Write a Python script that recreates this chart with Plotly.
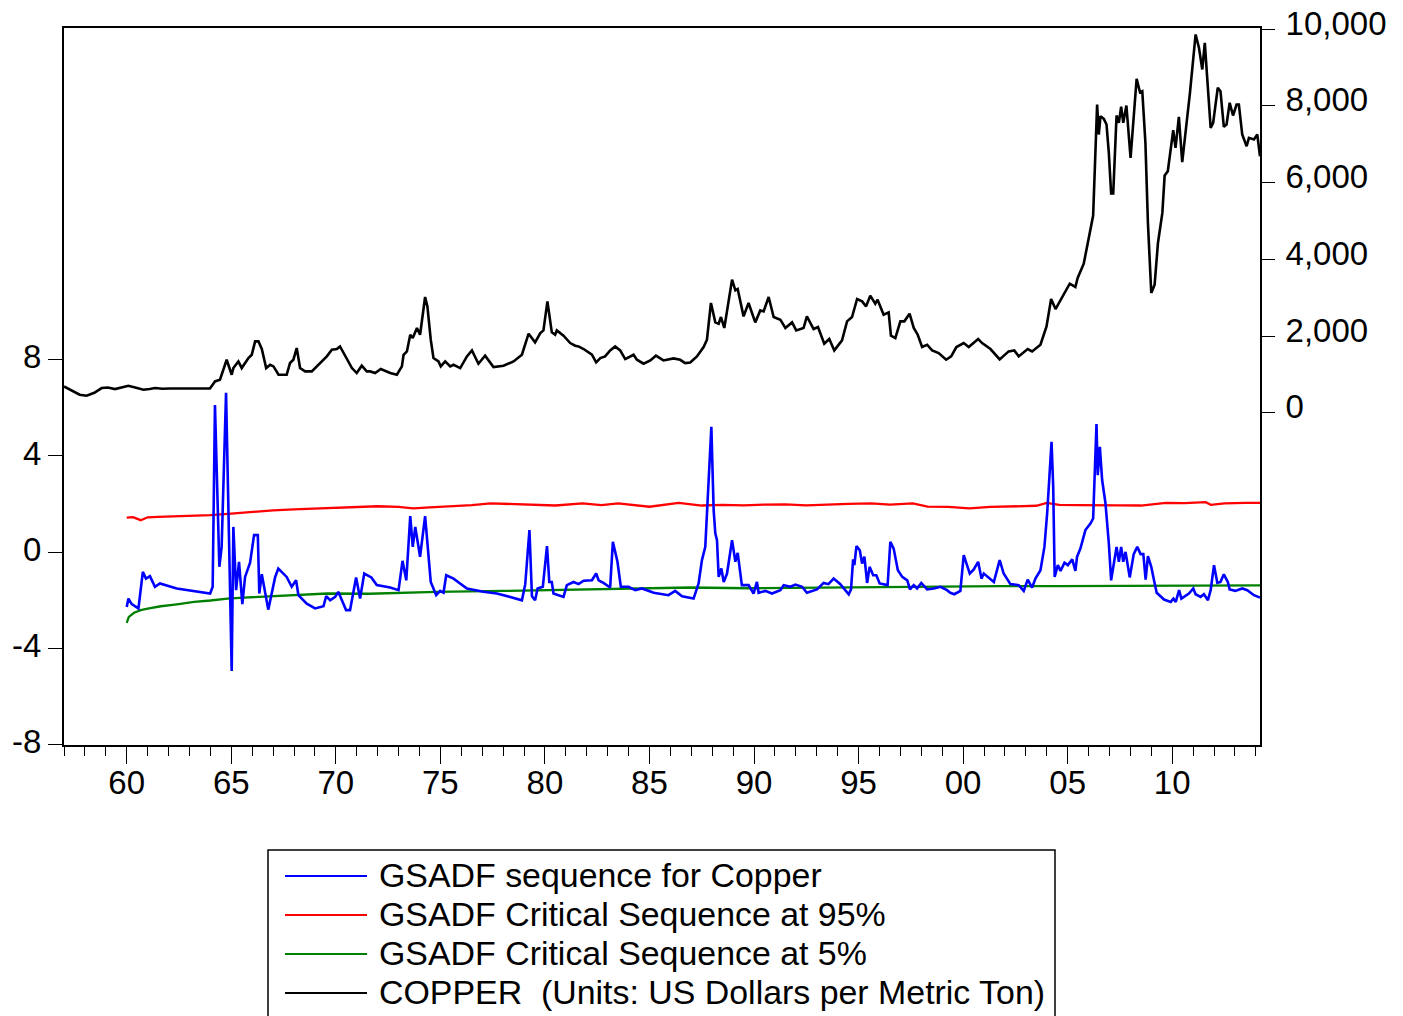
import plotly.graph_objects as go

# ---------------------------------------------------------------------------
# Data (time in decimal years)
# ---------------------------------------------------------------------------
copper_t = [
    1957.00, 1957.35, 1957.75, 1958.08, 1958.45, 1958.80, 1959.10, 1959.44, 1959.75,
    1960.08, 1960.45, 1960.80, 1961.10, 1961.35, 1961.70, 1962.07, 1963.00, 1963.98,
    1964.22, 1964.46, 1964.78, 1965.02, 1965.10, 1965.34, 1965.50, 1965.82, 1965.98,
    1966.14, 1966.30, 1966.46, 1966.67, 1966.86, 1967.02, 1967.26, 1967.65, 1967.81,
    1967.97, 1968.13, 1968.29, 1968.53, 1968.85, 1969.09, 1969.57, 1969.81, 1970.05,
    1970.20, 1970.52, 1970.77, 1971.00, 1971.24, 1971.48, 1971.64, 1971.88, 1972.15,
    1972.60, 1972.92, 1973.16, 1973.24, 1973.40, 1973.56, 1973.68, 1973.88, 1974.03,
    1974.27, 1974.38, 1974.54, 1974.67, 1974.91, 1975.02, 1975.23, 1975.47, 1975.63,
    1975.95, 1976.27, 1976.51, 1976.82, 1977.14, 1977.54, 1978.02, 1978.50, 1978.90,
    1979.22, 1979.53, 1979.78, 1979.93, 1980.12, 1980.33, 1980.49, 1980.57, 1980.89,
    1981.21, 1981.45, 1981.61, 1981.85, 1982.25, 1982.45, 1982.65, 1982.88, 1983.12,
    1983.36, 1983.60, 1983.84, 1984.24, 1984.40, 1984.72, 1985.04, 1985.31, 1985.67,
    1986.15, 1986.47, 1986.71, 1986.95, 1987.27, 1987.59, 1987.75, 1987.94, 1988.15,
    1988.31, 1988.42, 1988.58, 1988.95, 1989.11, 1989.22, 1989.50, 1989.74, 1990.06,
    1990.30, 1990.46, 1990.70, 1990.94, 1991.26, 1991.50, 1991.82, 1992.02, 1992.37,
    1992.53, 1992.85, 1993.06, 1993.36, 1993.60, 1993.84, 1994.21, 1994.45, 1994.69,
    1994.93, 1995.17, 1995.36, 1995.56, 1995.80, 1995.91, 1996.20, 1996.44, 1996.55,
    1996.76, 1997.00, 1997.19, 1997.44, 1997.64, 1997.83, 1998.04, 1998.28, 1998.52,
    1998.83, 1999.19, 1999.43, 1999.68, 2000.03, 2000.27, 2000.72, 2000.91, 2001.31,
    2001.75, 2002.18, 2002.45, 2002.66, 2003.09, 2003.30, 2003.70, 2003.99, 2004.21,
    2004.42, 2004.81, 2005.10, 2005.37, 2005.48, 2005.77, 2006.01, 2006.22, 2006.41,
    2006.49, 2006.57, 2006.73, 2006.86, 2006.97, 2007.08, 2007.18, 2007.34, 2007.45,
    2007.56, 2007.66, 2007.81, 2008.01, 2008.30, 2008.46, 2008.57, 2008.72, 2008.84,
    2009.00, 2009.16, 2009.32, 2009.53, 2009.64, 2009.79, 2010.05, 2010.16, 2010.32,
    2010.48, 2010.85, 2011.12, 2011.28, 2011.44, 2011.56, 2011.84, 2011.96, 2012.18,
    2012.31, 2012.47, 2012.60, 2012.75, 2012.91, 2013.08, 2013.19, 2013.35, 2013.56,
    2013.67, 2013.91, 2014.07, 2014.20,
]
copper_usd = [
    686, 590, 470, 443, 520, 644, 660, 618, 660,
    704, 650, 600, 620, 644, 625, 634, 634, 634,
    816, 860, 1382, 991, 1165, 1338, 1165, 1426, 1512,
    1860, 1860, 1661, 1165, 1252, 1208, 991, 991, 1296,
    1382, 1687, 1165, 1078, 1078, 1208, 1469, 1643, 1661,
    1729, 1426, 1165, 1035, 1226, 1078, 1078, 1035, 1139,
    1035, 991, 1208, 1512, 1599, 2034, 1947, 2209, 2034,
    3017, 2773, 1904, 1426, 1338, 1208, 1338, 1208, 1252,
    1165, 1469, 1625, 1278, 1487, 1191, 1226, 1338, 1512,
    2060, 1834, 2078, 2147, 2903, 2095, 2034, 2147, 2008,
    1817, 1747, 1729, 1661, 1512, 1312, 1426, 1469, 1625,
    1729, 1625, 1400, 1512, 1382, 1278, 1364, 1487, 1364,
    1416, 1380, 1296, 1312, 1469, 1713, 1904, 2860, 2355,
    2321, 2495, 2209, 3469, 3190, 3226, 2512, 2860, 2355,
    2668, 2642, 3017, 2495, 2425, 2209, 2355, 2147, 2209,
    2512, 2182, 2234, 1799, 1922, 1625, 1886, 2382, 2495,
    2964, 2903, 2773, 3051, 2843, 2947, 2556, 2616, 2008,
    1947, 2382, 2382, 2582, 2209, 2034, 1713, 1773, 1625,
    1557, 1382, 1469, 1713, 1817, 1713, 1922, 1817, 1661,
    1390, 1599, 1625, 1469, 1661, 1599, 1773, 2251, 2964,
    2703, 3077, 3364, 3278, 3512, 3886, 4598, 5138, 8033,
    7250, 7728, 7659, 7511, 6773, 5712, 5712, 7746, 7555,
    7973, 7555, 8007, 6643, 8703, 8353, 8380, 7033, 4947,
    3121, 3338, 4425, 5207, 6181, 6294, 7362, 6903, 7712,
    6529, 8338, 9858, 9510, 8945, 9640, 7424, 7555, 8468,
    8380, 7450, 7511, 8077, 7746, 8033, 8033, 7250, 6945,
    7164, 7120, 7250, 6685,
]

gsadf_t = [
    1960.00, 1960.08, 1960.24, 1960.56, 1960.77, 1960.92, 1961.11, 1961.35, 1961.59,
    1962.07, 1962.39, 1963.99, 1964.11, 1964.22, 1964.43, 1964.54, 1964.75, 1965.02,
    1965.10, 1965.23, 1965.37, 1965.53, 1965.66, 1965.90, 1966.09, 1966.27, 1966.34,
    1966.46, 1966.77, 1967.10, 1967.25, 1967.65, 1967.89, 1968.10, 1968.21, 1968.61,
    1969.01, 1969.41, 1969.54, 1969.73, 1969.97, 1970.12, 1970.29, 1970.49, 1970.68,
    1970.97, 1971.16, 1971.36, 1971.70, 1971.96, 1972.60, 1973.00, 1973.19, 1973.37,
    1973.56, 1973.68, 1973.80, 1974.03, 1974.27, 1974.54, 1974.80, 1974.99, 1975.15,
    1975.28, 1975.63, 1976.27, 1977.06, 1977.70, 1978.34, 1978.90, 1979.06, 1979.26,
    1979.38, 1979.53, 1979.65, 1979.90, 1980.10, 1980.21, 1980.33, 1980.41, 1980.65,
    1980.89, 1981.05, 1981.37, 1981.61, 1981.85, 1982.25, 1982.45, 1982.57, 1982.80,
    1983.12, 1983.25, 1983.47, 1983.63, 1984.00, 1984.32, 1984.64, 1985.20, 1985.91,
    1986.23, 1986.56, 1987.11, 1987.35, 1987.51, 1987.67, 1987.83, 1987.96, 1988.07,
    1988.15, 1988.23, 1988.31, 1988.44, 1988.55, 1988.71, 1988.95, 1989.11, 1989.22,
    1989.42, 1989.74, 1989.98, 1990.14, 1990.22, 1990.54, 1990.86, 1991.26, 1991.42,
    1991.74, 1991.98, 1992.30, 1992.53, 1993.01, 1993.33, 1993.56, 1993.81, 1994.13,
    1994.53, 1994.64, 1994.74, 1994.80, 1994.90, 1995.06, 1995.17, 1995.28, 1995.41,
    1995.53, 1995.70, 1995.85, 1996.01, 1996.39, 1996.52, 1996.68, 1996.88, 1997.09,
    1997.33, 1997.46, 1997.64, 1997.80, 1998.00, 1998.28, 1998.60, 1998.92, 1999.23,
    1999.39, 1999.58, 1999.87, 2000.03, 2000.32, 2000.51, 2000.72, 2000.88, 2000.99,
    2001.47, 2001.75, 2001.94, 2002.26, 2002.66, 2002.90, 2003.09, 2003.30, 2003.46,
    2003.70, 2003.89, 2004.02, 2004.23, 2004.31, 2004.38, 2004.53, 2004.66, 2004.85,
    2005.01, 2005.22, 2005.37, 2005.45, 2005.61, 2005.85, 2006.09, 2006.22, 2006.38,
    2006.44, 2006.54, 2006.65, 2006.81, 2006.97, 2007.08, 2007.34, 2007.45, 2007.56,
    2007.66, 2007.77, 2007.97, 2008.16, 2008.33, 2008.49, 2008.62, 2008.73, 2008.84,
    2009.00, 2009.13, 2009.26, 2009.61, 2009.93, 2010.06, 2010.17, 2010.33, 2010.44,
    2010.80, 2011.01, 2011.12, 2011.36, 2011.52, 2011.71, 2011.84, 2012.00, 2012.16,
    2012.31, 2012.47, 2012.66, 2012.75, 2013.02, 2013.35, 2013.59, 2013.91, 2014.20,
]
gsadf = [
    -2.28, -1.93, -2.16, -2.34, -0.82, -1.10, -1.00, -1.44, -1.30,
    -1.44, -1.51, -1.72, -1.44, 6.12, -0.61, 0.22, 6.63, -4.94,
    1.05, -1.58, -0.40, -2.16, -1.03, -0.44, 0.71, 0.71, -1.72,
    -0.92, -2.39, -1.03, -0.68, -1.03, -1.44, -1.17, -1.79, -2.14,
    -2.34, -2.25, -1.83, -2.00, -1.86, -1.65, -2.00, -2.41, -2.41,
    -1.05, -1.93, -0.89, -1.05, -1.37, -1.47, -1.58, -0.36, -1.17,
    1.50, 0.22, 1.05, -0.19, 1.50, -1.24, -1.79, -1.61, -1.69,
    -0.96, -1.10, -1.51, -1.65, -1.72, -1.86, -2.00, -1.33, 0.92,
    -1.83, -2.00, -1.51, -1.44, 0.25, -1.24, -1.24, -1.72, -1.79,
    -1.86, -1.37, -1.24, -1.33, -1.19, -1.17, -0.89, -1.17, -1.28,
    -1.47, 0.43, -0.40, -1.44, -1.44, -1.58, -1.51, -1.69, -1.79,
    -1.61, -1.83, -1.93, -1.30, -0.33, 0.22, 3.13, 5.21, 1.75,
    0.78, 0.50, -1.03, -0.68, -1.24, -0.89, 0.50, -0.40, -0.03,
    -1.37, -1.37, -1.72, -1.24, -1.69, -1.61, -1.72, -1.58, -1.37,
    -1.44, -1.35, -1.44, -1.69, -1.55, -1.28, -1.33, -1.10, -1.33,
    -1.75, -1.55, -0.30, -0.54, 0.25, 0.08, -0.47, -0.19, -1.28,
    -0.61, -0.96, -0.96, -1.30, -1.37, 0.43, 0.15, -0.75, -1.03,
    -1.17, -1.55, -1.37, -1.51, -1.28, -1.55, -1.51, -1.44, -1.58,
    -1.69, -1.75, -1.61, -0.12, -0.89, -0.72, -0.40, -1.10, -0.89,
    -1.24, -0.33, -0.89, -1.33, -1.37, -1.61, -1.14, -1.47, -1.10,
    -0.75, 0.22, 1.61, 4.59, 2.72, -1.03, -0.54, -0.78, -0.44,
    -0.54, -0.30, -0.78, -0.19, 0.15, 0.92, 1.19, 1.40, 5.33,
    3.20, 4.38, 3.00, 2.03, 0.36, -1.17, 0.22, -0.40, 0.22,
    -0.40, 0.01, -1.05, -0.08, 0.22, -0.08, -0.08, -1.14, -0.17,
    -0.61, -1.17, -1.69, -1.97, -2.07, -1.93, -2.07, -1.58, -1.93,
    -1.72, -1.51, -1.75, -1.86, -1.75, -2.00, -1.58, -0.54, -1.28,
    -1.24, -0.92, -1.24, -1.55, -1.61, -1.51, -1.58, -1.79, -1.89,
]

crit95_t = [
    1960.00, 1960.30, 1960.67, 1961.00, 1961.50, 1962.00, 1963.00, 1964.00, 1965.00,
    1966.00, 1967.00, 1968.00, 1969.00, 1970.00, 1971.00, 1972.00, 1973.00, 1973.70,
    1974.50, 1975.50, 1976.50, 1977.40, 1978.50, 1979.60, 1980.50, 1981.80, 1982.70,
    1983.50, 1984.30, 1985.00, 1986.40, 1987.50, 1988.50, 1989.50, 1990.50, 1991.50,
    1992.50, 1993.50, 1994.50, 1995.60, 1996.50, 1997.60, 1998.30, 1999.30, 2000.30,
    2001.30, 2002.50, 2003.50, 2004.00, 2004.60, 2005.50, 2006.50, 2007.50, 2008.50,
    2009.70, 2010.60, 2011.60, 2011.85, 2012.50, 2013.50, 2014.20,
]
crit95 = [
    1.44, 1.46, 1.33, 1.45, 1.47, 1.48, 1.50, 1.54, 1.60,
    1.68, 1.74, 1.78, 1.82, 1.86, 1.90, 1.91, 1.88, 1.82,
    1.86, 1.90, 1.96, 2.03, 1.99, 1.96, 1.94, 2.03, 1.96,
    2.03, 1.96, 1.89, 2.05, 1.94, 1.97, 1.95, 1.98, 1.99,
    1.95, 1.99, 2.01, 2.03, 1.98, 2.03, 1.89, 1.88, 1.82,
    1.88, 1.91, 1.93, 2.05, 1.97, 1.96, 1.94, 1.95, 1.94,
    2.05, 2.04, 2.08, 1.97, 2.03, 2.05, 2.05,
]

crit5_t = [
    1960.00, 1960.10, 1960.35, 1960.67, 1961.00, 1961.63, 1962.40, 1963.22, 1964.00,
    1964.82, 1965.60, 1966.41, 1967.20, 1968.01, 1969.60, 1971.60, 1974.80, 1978.00,
    1981.20, 1984.40, 1986.95, 1989.70, 1992.90, 1996.10, 1999.20, 2001.80, 2004.50,
    2007.70, 2010.90, 2013.50, 2014.20,
]
crit5 = [
    -2.94, -2.69, -2.52, -2.41, -2.35, -2.25, -2.17, -2.07, -2.01,
    -1.93, -1.89, -1.86, -1.82, -1.79, -1.72, -1.73, -1.65, -1.61,
    -1.55, -1.51, -1.47, -1.50, -1.47, -1.44, -1.43, -1.41, -1.41,
    -1.40, -1.39, -1.37, -1.38,
]

year_ticks = [1960, 1965, 1970, 1975, 1980, 1985, 1990, 1995, 2000, 2005, 2010]
year_labels = ["60", "65", "70", "75", "80", "85", "90", "95", "00", "05", "10"]
left_ticks = [-8, -4, 0, 4, 8]
right_ticks = [0, 2000, 4000, 6000, 8000, 10000]

series_names = [
    "GSADF sequence for Copper",
    "GSADF Critical Sequence at 95%",
    "GSADF Critical Sequence at 5%",
    "COPPER  (Units: US Dollars per Metric Ton)",
]
series_colors = ["#0000ff", "#ff0000", "#008000", "#000000"]

# ---------------------------------------------------------------------------
# Figure geometry
# ---------------------------------------------------------------------------
W, H = 1403, 1016
ML, MR, MT, MB = 64, 143, 28, 271
PW, PH = W - ML - MR, H - MT - MB
FONT = "Liberation Sans, Arial, Helvetica, sans-serif"


def fx(px):
    return (px - ML) / PW


def fy(py):
    return (H - MB - py) / PH


fig = go.Figure()

fig.add_trace(go.Scatter(x=copper_t, y=copper_usd, yaxis="y2", mode="lines",
                         name=series_names[3],
                         line=dict(color=series_colors[3], width=2.6)))
fig.add_trace(go.Scatter(x=crit5_t, y=crit5, mode="lines", name=series_names[2],
                         line=dict(color=series_colors[2], width=2.3)))
fig.add_trace(go.Scatter(x=crit95_t, y=crit95, mode="lines", name=series_names[1],
                         line=dict(color=series_colors[1], width=2.3)))
fig.add_trace(go.Scatter(x=gsadf_t, y=gsadf, mode="lines", name=series_names[0],
                         line=dict(color=series_colors[0], width=2.6)))

axis_font = dict(family=FONT, size=33, color="black")

fig.update_layout(
    width=W, height=H,
    margin=dict(l=ML, r=MR, t=MT, b=MB, pad=0, autoexpand=False),
    paper_bgcolor="white", plot_bgcolor="white",
    showlegend=False,
    font=dict(family=FONT, color="black"),
    xaxis=dict(
        range=[1957.0, 2014.2], showgrid=False, zeroline=False, automargin=False,
        showline=True, linecolor="black", linewidth=2, mirror=True,
        tickmode="array", tickvals=year_ticks, ticktext=year_labels,
        ticks="outside", ticklen=17, tickwidth=1.3, tickcolor="black",
        minor=dict(ticks="outside", ticklen=9, tickwidth=1.3, tickcolor="black",
                   tick0=1957, dtick=1, showgrid=False),
        tickfont=axis_font, ticklabelstandoff=-10,
    ),
    yaxis=dict(
        range=[-8.02, 21.8], showgrid=False, zeroline=False, automargin=False,
        showline=True, linecolor="black", linewidth=2,
        tickmode="array", tickvals=left_ticks,
        ticktext=[str(v) for v in left_ticks],
        ticks="outside", ticklen=14, tickwidth=1.3, tickcolor="black",
        tickfont=axis_font, ticklabelshift=-3,
    ),
    yaxis2=dict(
        overlaying="y", side="right", range=[-8657, 10026],
        showgrid=False, zeroline=False, automargin=False,
        showline=True, linecolor="black", linewidth=2,
        tickmode="array", tickvals=right_ticks,
        ticktext=[f"{v:,}" for v in right_ticks],
        ticks="outside", ticklen=13, tickwidth=1.3, tickcolor="black",
        tickfont=axis_font, ticklabelshift=-6, ticklabelstandoff=4,
    ),
)

# ---------------------------------------------------------------------------
# Legend box below the plot
# ---------------------------------------------------------------------------
shapes = [dict(type="rect", xref="paper", yref="paper",
               x0=fx(268), x1=fx(1055), y0=fy(850), y1=fy(1040),
               line=dict(color="black", width=1.5), fillcolor="white", layer="above")]
annotations = []
row_y = [876, 915, 954, 993]
for name, color, ry in zip(series_names, series_colors, row_y):
    shapes.append(dict(type="line", xref="paper", yref="paper",
                       x0=fx(285), x1=fx(367), y0=fy(ry), y1=fy(ry),
                       line=dict(color=color, width=2)))
    annotations.append(dict(xref="paper", yref="paper", x=fx(377), y=fy(ry - 1.5),
                            xanchor="left", yanchor="middle", showarrow=False,
                            text=name, font=dict(family=FONT, size=33.9, color="black")))

fig.update_layout(shapes=shapes, annotations=annotations)

fig.write_html("out.html")
